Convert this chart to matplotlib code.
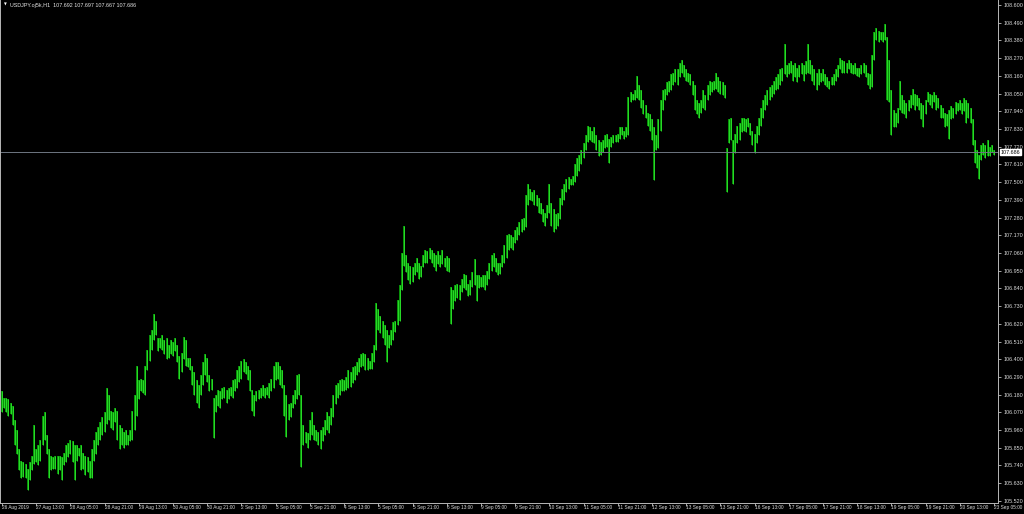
import numpy as np
import matplotlib
matplotlib.use("Agg")
import matplotlib.pyplot as plt

# USDJPY H1, first bar 26 Aug 2019 21:00, last bar 23 Sep 2019 05:00
symbol = "USDJPY.oj5k,H1"
last_ohlc = [107.692, 107.697, 107.667, 107.686]

highs = [
    # 26-29 Aug
    106.20, 106.16, 106.16, 106.15, 106.13, 106.11, 106.02, 105.96, 105.84, 105.77,
    105.76, 105.75, 105.72, 105.76, 105.80, 105.99, 105.84, 105.87, 105.90, 106.05,
    106.07, 105.93, 105.84, 105.80, 105.79, 105.80, 105.80, 105.80, 105.79, 105.82,
    105.87, 105.88, 105.90, 105.89, 105.87, 105.87, 105.85, 105.87, 105.82, 105.80,
    105.79, 105.77, 105.84, 105.90, 105.95, 105.98, 106.01, 106.04, 106.07, 106.22,
    106.18, 106.08, 106.07, 106.10, 106.08, 105.99, 105.97, 105.95, 105.96, 105.93,
    105.96, 106.08, 106.18, 106.36, 106.27, 106.28, 106.27, 106.36, 106.46, 106.55,
    106.58, 106.68, 106.64, 106.53, 106.53, 106.55, 106.52, 106.53, 106.49,
    # 30 Aug - 3 Sep
    106.52, 106.51, 106.53, 106.49, 106.42, 106.44, 106.54, 106.52, 106.41, 106.41,
    106.36, 106.32, 106.27, 106.24, 106.30, 106.38, 106.43, 106.41, 106.30, 106.28,
    106.16, 106.18, 106.21, 106.20, 106.22, 106.23, 106.21, 106.22, 106.23, 106.27,
    106.28, 106.33, 106.36, 106.39, 106.40, 106.38, 106.36, 106.33, 106.21, 106.18,
    106.20, 106.21, 106.22, 106.24, 106.22, 106.23, 106.25, 106.28, 106.36, 106.38,
    106.38, 106.36, 106.33, 106.24, 106.18, 106.12, 106.13, 106.18, 106.21, 106.30,
    106.31, 106.18, 105.99, 105.95, 105.94, 106.02, 106.07, 105.99, 105.96, 105.95,
    105.96, 105.98, 106.02, 106.07, 106.05, 106.10, 106.18, 106.24, 106.25, 106.27,
    # 4 Sep - 9 Sep
    106.28, 106.27, 106.29, 106.33, 106.32, 106.35, 106.36, 106.38, 106.41, 106.43,
    106.44, 106.43, 106.41, 106.39, 106.44, 106.49, 106.75, 106.71, 106.67, 106.64,
    106.61, 106.58, 106.55, 106.58, 106.63, 106.64, 106.77, 106.86, 107.06, 107.23,
    107.05, 107.00, 106.98, 106.97, 107.00, 107.03, 107.00, 106.98, 107.05, 107.08,
    107.07, 107.09, 107.08, 107.06, 107.05, 107.07, 107.05, 107.08, 107.03, 107.04,
    107.03, 106.85, 106.83, 106.86, 106.87, 106.86, 106.90, 106.93, 106.92, 106.87,
    106.89, 106.94, 107.02, 106.92, 106.92, 106.91, 106.92, 106.92, 106.95, 107.00,
    107.05, 107.06, 107.03, 107.00, 107.00, 107.05, 107.11, 107.17, 107.18,
    # 9 Sep - 13 Sep
    107.17, 107.16, 107.20, 107.22, 107.25, 107.27, 107.28, 107.42, 107.49, 107.46,
    107.44, 107.45, 107.42, 107.40, 107.37, 107.33, 107.31, 107.36, 107.49, 107.37,
    107.33, 107.30, 107.31, 107.40, 107.46, 107.49, 107.52, 107.53, 107.52, 107.54,
    107.61, 107.65, 107.67, 107.70, 107.74, 107.79, 107.85, 107.84, 107.82, 107.84,
    107.79, 107.76, 107.75, 107.76, 107.79, 107.80, 107.77, 107.78, 107.79, 107.79,
    107.80, 107.84, 107.84, 107.82, 107.84, 108.03, 108.06, 108.05, 108.07, 108.16,
    108.10, 108.07, 108.01, 107.98, 107.93, 107.92, 107.89, 107.84, 107.79, 107.89,
    108.01, 108.07, 108.08, 108.12, 108.13, 108.17, 108.18, 108.20,
    # 13 Sep - 18 Sep
    108.20, 108.24, 108.26, 108.23, 108.20, 108.18, 108.17, 108.13, 108.10, 108.01,
    107.99, 108.01, 108.07, 108.04, 108.10, 108.13, 108.12, 108.13, 108.18, 108.15,
    108.13, 108.12, 108.10, 107.71, 107.89, 107.90, 107.76, 107.80, 107.85, 107.87,
    107.90, 107.90, 107.89, 107.90, 107.87, 107.82, 107.80, 107.85, 107.90, 107.96,
    108.01, 108.04, 108.07, 108.09, 108.10, 108.13, 108.15, 108.17, 108.20, 108.21,
    108.36, 108.23, 108.24, 108.25, 108.23, 108.24, 108.21, 108.23, 108.24, 108.23,
    108.25, 108.36, 108.26, 108.23, 108.20, 108.18, 108.20, 108.18, 108.20, 108.17,
    108.15, 108.13, 108.15, 108.17, 108.20, 108.23, 108.27, 108.26,
    # 18 Sep - 23 Sep
    108.25, 108.24, 108.26, 108.24, 108.23, 108.24, 108.21, 108.21, 108.23, 108.24,
    108.23, 108.18, 108.17, 108.29, 108.43, 108.46, 108.44, 108.43, 108.43, 108.48,
    108.40, 108.26, 108.07, 107.95, 107.93, 107.96, 108.13, 108.04, 108.01, 107.99,
    108.01, 108.04, 108.08, 108.05, 108.04, 108.02, 107.99, 107.98, 108.01, 108.06,
    108.05, 108.04, 108.06, 108.04, 108.02, 107.98, 107.96, 107.93, 107.92, 107.95,
    107.97, 107.96, 108.00, 107.99, 108.01, 107.99, 108.02, 108.01, 107.99, 107.96,
    107.89, 107.76, 107.70, 107.67, 107.73, 107.74, 107.73, 107.76, 107.72, 107.73,
    107.697,
]

lows = [
    # 26-29 Aug
    106.07, 106.10, 106.07, 106.05, 106.06, 105.99, 105.87, 105.81, 105.71, 105.66,
    105.67, 105.66, 105.59, 105.65, 105.71, 105.75, 105.76, 105.74, 105.77, 105.87,
    105.90, 105.81, 105.66, 105.71, 105.72, 105.72, 105.69, 105.71, 105.65, 105.74,
    105.76, 105.79, 105.81, 105.76, 105.65, 105.77, 105.80, 105.71, 105.72, 105.68,
    105.70, 105.66, 105.66, 105.77, 105.81, 105.87, 105.90, 105.93, 105.95, 106.00,
    106.02, 105.97, 105.96, 106.01, 105.90, 105.84, 105.87, 105.85, 105.87, 105.87,
    105.89, 105.90, 105.96, 106.05, 106.15, 106.20, 106.19, 106.18, 106.33, 106.39,
    106.46, 106.52, 106.55, 106.45, 106.47, 106.46, 106.43, 106.40, 106.41,
    # 30 Aug - 3 Sep
    106.43, 106.42, 106.45, 106.38, 106.28, 106.32, 106.40, 106.36, 106.35, 106.33,
    106.24, 106.18, 106.13, 106.10, 106.18, 106.24, 106.30, 106.26, 106.20, 106.21,
    105.91, 106.07, 106.11, 106.10, 106.15, 106.16, 106.13, 106.15, 106.17, 106.16,
    106.20, 106.22, 106.26, 106.28, 106.32, 106.31, 106.27, 106.20, 106.08, 106.05,
    106.14, 106.15, 106.16, 106.17, 106.16, 106.18, 106.16, 106.20, 106.22, 106.27,
    106.28, 106.24, 106.22, 106.05, 105.92, 106.02, 106.04, 106.10, 106.12, 106.15,
    106.18, 105.73, 105.87, 105.88, 105.85, 105.90, 105.93, 105.90, 105.89, 105.87,
    105.84, 105.89, 105.93, 105.96, 105.94, 105.99, 106.04, 106.12, 106.16, 106.18,
    # 4 Sep - 9 Sep
    106.20, 106.20, 106.21, 106.22, 106.23, 106.25, 106.27, 106.30, 106.32, 106.35,
    106.36, 106.33, 106.33, 106.34, 106.34, 106.38, 106.46, 106.58, 106.56, 106.53,
    106.49, 106.38, 106.47, 106.49, 106.52, 106.57, 106.61, 106.64, 106.83, 106.98,
    106.94, 106.89, 106.87, 106.88, 106.92, 106.94, 106.90, 106.91, 106.97, 107.00,
    107.00, 107.02, 107.00, 106.97, 106.95, 106.99, 106.97, 106.99, 106.97, 106.95,
    106.94, 106.62, 106.71, 106.76, 106.78, 106.77, 106.82, 106.84, 106.83, 106.79,
    106.80, 106.85, 106.86, 106.76, 106.84, 106.85, 106.85, 106.83, 106.86, 106.90,
    106.95, 106.97, 106.94, 106.92, 106.93, 106.97, 107.00, 107.03, 107.08,
    # 9 Sep - 13 Sep
    107.09, 107.08, 107.12, 107.14, 107.17, 107.19, 107.20, 107.22, 107.36, 107.39,
    107.38, 107.36, 107.35, 107.31, 107.30, 107.25, 107.23, 107.28, 107.31, 107.23,
    107.19, 107.21, 107.23, 107.27, 107.36, 107.39, 107.44, 107.46, 107.48, 107.48,
    107.50, 107.54, 107.57, 107.61, 107.65, 107.70, 107.75, 107.76, 107.75, 107.74,
    107.70, 107.66, 107.67, 107.69, 107.71, 107.72, 107.62, 107.72, 107.74, 107.75,
    107.75, 107.77, 107.79, 107.77, 107.78, 107.79, 108.00, 108.01, 108.01, 108.02,
    108.01, 107.96, 107.92, 107.90, 107.85, 107.82, 107.76, 107.51, 107.70, 107.71,
    107.82, 107.95, 108.01, 108.04, 108.06, 108.07, 108.10, 108.12,
    # 13 Sep - 18 Sep
    108.10, 108.15, 108.18, 108.15, 108.13, 108.12, 108.10, 108.04, 107.95, 107.92,
    107.90, 107.93, 107.96, 107.95, 108.01, 108.04, 108.06, 108.07, 108.08, 108.06,
    108.05, 108.04, 108.02, 107.44, 107.74, 107.76, 107.49, 107.68, 107.74, 107.76,
    107.81, 107.82, 107.81, 107.84, 107.79, 107.73, 107.68, 107.74, 107.79, 107.85,
    107.90, 107.95, 107.98, 108.01, 108.03, 108.05, 108.07, 108.08, 108.10, 108.13,
    108.17, 108.15, 108.17, 108.18, 108.13, 108.15, 108.12, 108.15, 108.17, 108.13,
    108.17, 108.18, 108.17, 108.13, 108.10, 108.07, 108.10, 108.12, 108.13, 108.10,
    108.09, 108.08, 108.10, 108.10, 108.13, 108.15, 108.20, 108.18,
    # 18 Sep - 23 Sep
    108.18, 108.18, 108.20, 108.18, 108.17, 108.17, 108.16, 108.15, 108.17, 108.18,
    108.15, 108.10, 108.08, 108.09, 108.26, 108.38, 108.37, 108.38, 108.37, 108.38,
    108.01, 108.00, 107.79, 107.84, 107.84, 107.87, 107.95, 107.93, 107.92, 107.90,
    107.94, 107.96, 107.98, 107.95, 107.97, 107.95, 107.89, 107.84, 107.92, 108.00,
    107.98, 107.96, 108.00, 107.95, 107.96, 107.90, 107.90, 107.84, 107.85, 107.77,
    107.89, 107.90, 107.92, 107.94, 107.95, 107.92, 107.94, 107.87, 107.90, 107.87,
    107.73, 107.62, 107.59, 107.52, 107.64, 107.67, 107.65, 107.66, 107.66, 107.69,
    107.667,
]

price_ticks = [108.600, 108.490, 108.380, 108.270, 108.160, 108.050, 107.940,
               107.830, 107.720, 107.610, 107.500, 107.390, 107.280, 107.170,
               107.060, 106.950, 106.840, 106.730, 106.620, 106.510, 106.400,
               106.290, 106.180, 106.070, 105.960, 105.850, 105.740, 105.630,
               105.520]

time_labels = ["26 Aug 2019", "27 Aug 13:00", "28 Aug 05:00", "28 Aug 21:00",
               "29 Aug 13:00", "30 Aug 05:00", "30 Aug 21:00", "2 Sep 13:00",
               "3 Sep 05:00", "3 Sep 21:00", "4 Sep 13:00", "5 Sep 05:00",
               "5 Sep 21:00", "6 Sep 13:00", "9 Sep 05:00", "9 Sep 21:00",
               "10 Sep 13:00", "11 Sep 05:00", "11 Sep 21:00", "12 Sep 13:00",
               "13 Sep 05:00", "13 Sep 21:00", "16 Sep 13:00", "17 Sep 05:00",
               "17 Sep 21:00", "18 Sep 13:00", "19 Sep 05:00", "19 Sep 21:00",
               "20 Sep 13:00", "23 Sep 05:00"]
label_step = 16  # one time label every 16 bars

W, H = 1024, 514
fig = plt.figure(figsize=(W / 100, H / 100), dpi=100, facecolor="black")
ax = fig.add_axes([0, 11 / H, 998 / W, 503 / H], facecolor="black")

bars = np.arange(len(highs))
# darker wick underneath, brighter core on top
ax.vlines(bars, lows, highs, color="#0a9a0a", linewidth=1.35)
ax.vlines(bars, lows, highs, color="#2ee82e", linewidth=0.6)

# current price line and its marker on the price scale
ax.axhline(last_ohlc[3], color="#6e7682", linewidth=0.7)
ax.annotate(f"{last_ohlc[3]:.3f}", xy=(1, last_ohlc[3]),
            xycoords=("axes fraction", "data"), xytext=(3, 0),
            textcoords="offset pixels", ha="left", va="center",
            fontsize=3.9, family="Liberation Sans", color="black",
            bbox=dict(boxstyle="square,pad=0.15", fc="white", ec="white"))

ax.set_xlim(-0.94, 465.85)
ax.set_ylim(105.507, 108.631)

ax.yaxis.tick_right()
ax.set_yticks(price_ticks)
ax.set_yticklabels([f"{p:.3f}" for p in price_ticks])
ax.set_xticks(bars[::label_step])
ax.set_xticklabels(time_labels, ha="left")

ax.tick_params(axis="both", colors="#c0c0c0", labelcolor="#dcdcdc",
               labelsize=3.9, length=2.2, width=0.6, direction="out")
ax.tick_params(axis="y", pad=1.5)
ax.tick_params(axis="x", pad=-0.5, labelsize=3.45)
for lbl in ax.get_xticklabels() + ax.get_yticklabels():
    lbl.set_family("Liberation Sans")

for side in ["left", "right", "bottom"]:
    ax.spines[side].set_color("#b8b8b8")
    ax.spines[side].set_linewidth(0.7)
ax.spines["top"].set_visible(False)

# symbol header
fig.text(4 / W, 1 - 5 / H, "\u25bc", color="white", fontsize=2.6,
         va="center", ha="left", family="DejaVu Sans")
fig.text(10 / W, 1 - 5 / H,
         symbol + "  " + " ".join(f"{v:.3f}" for v in last_ohlc),
         color="#e4e4e4", fontsize=3.9, va="center", ha="left",
         family="Liberation Sans")

fig.savefig("out.png", dpi=100, facecolor="black")
